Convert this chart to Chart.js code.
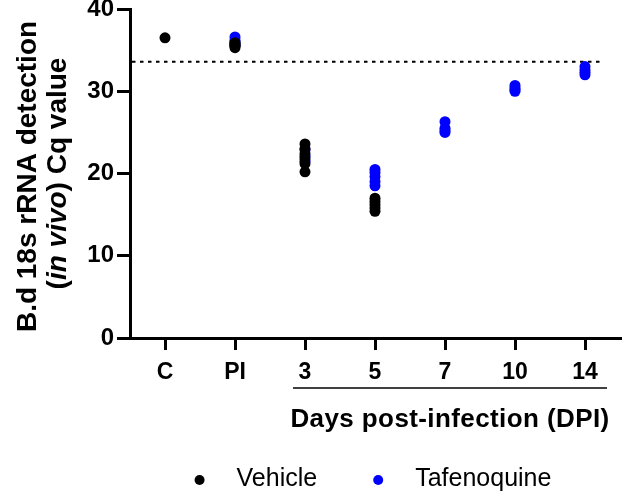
<!DOCTYPE html>
<html lang="en">
<head>
  <meta charset="UTF-8" />
  <title>B.d 18s rRNA detection</title>
  <script src="https://cdn.jsdelivr.net/npm/chart.js"></script>
  <style>
    html, body { margin: 0; padding: 0; background: #fff; }
    #wrap { width: 629px; height: 497px; }
  </style>
</head>
<body>
  <div id="wrap"><canvas id="grafico"></canvas></div>

  <script>
    // categories on the x axis
    const categories = ['C', 'PI', '3', '5', '7', '10', '14'];
    // Cq values per category
    const vehicleValues = [
      [36.5],
      [35.3, 35.5, 35.6, 35.8, 35.9],
      [23.6, 23.0, 22.4, 21.8, 21.2, 20.2],
      [17.0, 16.6, 16.2, 15.8, 15.4],
      [], [], []
    ];
    const tafenoquineValues = [
      [],
      [36.6, 36.2, 35.9, 35.6],
      [22.9, 22.1, 21.5],
      [20.5, 20.1, 19.6, 19.0, 18.5],
      [26.3, 25.5, 25.2, 25.0],
      [30.7, 30.4, 30.2, 30.0],
      [33.0, 32.6, 32.3, 32.0]
    ];
    const yTicks = [0, 10, 20, 30, 40];
    const detectionLimit = 33.6;
    const dpiFrom = '3', dpiTo = '14';

    const FONT = 'Arial, "Liberation Sans", sans-serif';

    function toPoints(values) {
      return categories.flatMap((c, i) => values[i].map(v => ({ x: c, y: v })));
    }

    const extras = {
      id: 'extras',
      beforeDatasetsDraw(chart) {
        const { ctx, chartArea, scales } = chart;
        const y = scales.y.getPixelForValue(detectionLimit);
        const xEnd = scales.x.getPixelForValue(categories.length - 1) + 15;
        ctx.save();
        ctx.strokeStyle = '#000';
        ctx.lineWidth = 2;
        ctx.setLineDash([3.5, 4.5]);
        ctx.beginPath();
        ctx.moveTo(chartArea.left + 2, y);
        ctx.lineTo(xEnd, y);
        ctx.stroke();
        ctx.restore();
      },
      afterDraw(chart) {
        const { ctx, chartArea, scales } = chart;
        ctx.save();
        ctx.fillStyle = '#000';

        // bracket + x title
        const x1 = scales.x.getPixelForValue(categories.indexOf(dpiFrom)) - 12;
        const x2 = scales.x.getPixelForValue(categories.indexOf(dpiTo)) + 22;
        ctx.strokeStyle = '#000';
        ctx.lineWidth = 1.5;
        ctx.beginPath();
        ctx.moveTo(x1, 388);
        ctx.lineTo(x2, 388);
        ctx.stroke();
        ctx.font = 'bold 26px ' + FONT;
        ctx.textAlign = 'center';
        ctx.textBaseline = 'alphabetic';
        ctx.letterSpacing = '0.4px';
        ctx.fillText('Days post-infection (DPI)', (x1 + x2) / 2, 427);
        ctx.letterSpacing = '0px';

        // y title, two lines, rotated
        const cy = (chartArea.top + chartArea.bottom) / 2;
        ctx.save();
        ctx.translate(36, cy + 3);
        ctx.rotate(-Math.PI / 2);
        ctx.font = 'bold 28px ' + FONT;
        ctx.textAlign = 'center';
        ctx.fillText('B.d 18s rRNA detection', 0, 0);
        ctx.restore();

        ctx.save();
        ctx.translate(66, cy);
        ctx.rotate(-Math.PI / 2);
        ctx.textAlign = 'left';
        const parts = [
          ['(', 'bold 28px ' + FONT],
          ['in vivo', 'italic bold 28px ' + FONT],
          [') Cq value', 'bold 28px ' + FONT]
        ];
        let total = 0;
        parts.forEach(p => { ctx.font = p[1]; total += ctx.measureText(p[0]).width; });
        let px = -total / 2;
        parts.forEach(p => { ctx.font = p[1]; ctx.fillText(p[0], px, 0); px += ctx.measureText(p[0]).width; });
        ctx.restore();

        // legend
        ctx.font = '25px ' + FONT;
        ctx.textAlign = 'left';
        ctx.textBaseline = 'middle';
        const r = 5, gapText = 32, gapItem = 56;
        const items = chart.data.datasets.map(d => ({
          label: d.label, color: d.backgroundColor, w: r * 2 + gapText + ctx.measureText(d.label).width
        }));
        const totalW = items.reduce((s, it) => s + it.w, 0) + gapItem * (items.length - 1);
        let lx = (chartArea.left + chartArea.right) / 2 - totalW / 2 - 2;
        items.forEach(it => {
          ctx.fillStyle = it.color;
          ctx.beginPath();
          ctx.arc(lx + r, 480, r, 0, Math.PI * 2);
          ctx.fill();
          ctx.fillStyle = '#000';
          ctx.fillText(it.label, lx + r * 2 + gapText, 479);
          lx += it.w + gapItem;
        });
        ctx.restore();
      }
    };

    const ctx = document.getElementById('grafico').getContext('2d');
    new Chart(ctx, {
      type: 'scatter',
      data: {
        datasets: [
          {
            label: 'Vehicle',
            data: toPoints(vehicleValues),
            backgroundColor: '#000000',
            borderColor: '#000000',
            pointRadius: 5.5,
            borderWidth: 0
          },
          {
            label: 'Tafenoquine',
            data: toPoints(tafenoquineValues),
            backgroundColor: '#0000ff',
            borderColor: '#0000ff',
            pointRadius: 5.5,
            borderWidth: 0
          }
        ]
      },
      options: {
        responsive: true,
        maintainAspectRatio: false,
        animation: false,
        layout: { padding: { left: 0, right: 9, top: 0, bottom: 0 } },
        plugins: {
          legend: { display: false },
          tooltip: { enabled: false }
        },
        scales: {
          x: {
            type: 'category',
            labels: categories,
            offset: true,
            grid: { offset: false, drawOnChartArea: false, color: '#000', lineWidth: 3, tickLength: 12 },
            border: { color: '#000', width: 3 },
            ticks: {
              color: '#000',
              font: { family: FONT, size: 23, weight: 'bold' },
              padding: 9,
              maxRotation: 0,
              autoSkip: false
            },
            afterFit: s => { s.height = 159; }
          },
          y: {
            min: 0,
            max: 40,
            afterBuildTicks: s => { s.ticks = yTicks.map(v => ({ value: v })); },
            grid: { drawOnChartArea: false, color: '#000', lineWidth: 3, tickLength: 13 },
            border: { color: '#000', width: 3 },
            ticks: {
              color: '#000',
              font: { family: FONT, size: 24, weight: 'bold', lineHeight: 0.5 },
              padding: 3
            },
            afterFit: s => { s.width = 130; }
          }
        }
      },
      plugins: [extras]
    });
  </script>
</body>
</html>
